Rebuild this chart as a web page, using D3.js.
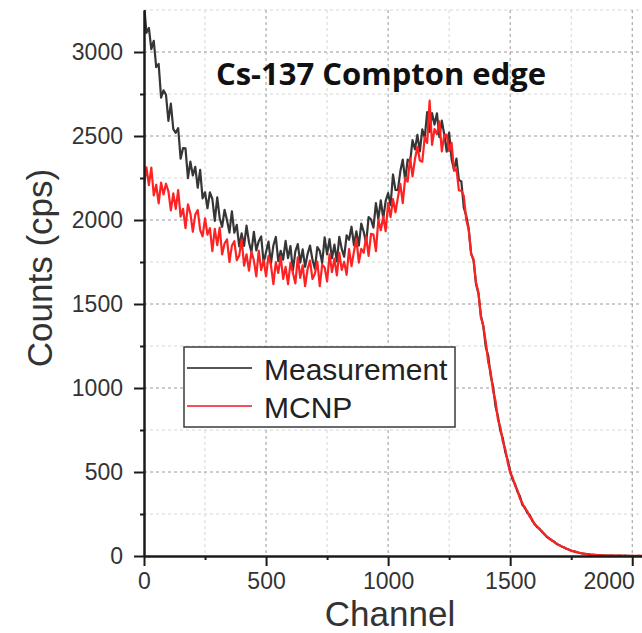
<!DOCTYPE html>
<html>
<head>
<meta charset="utf-8">
<script src="https://cdn.jsdelivr.net/npm/d3@7"></script>
<style>
  body { margin: 0; background: #fff; }
  svg { display: block; }
</style>
</head>
<body>
<svg id="chart" width="642" height="633"></svg>
<script>
// Spectrum sampled every 10 channels, starting at channel 0 (counts per second)
const channelStep = 10;

const measurement = [
  3290, 3114, 3143, 3017, 3066, 2910, 2929, 2728, 2772, 2746,
  2590, 2693, 2541, 2519, 2547, 2365, 2428, 2426, 2249, 2347,
  2265, 2316, 2192, 2298, 2129, 2165, 2070, 2165, 2125, 1995,
  2135, 2012, 1959, 2061, 1998, 1925, 2052, 1924, 1971, 1843,
  1920, 1846, 1967, 1868, 1809, 1930, 1819, 1873, 1902, 1746,
  1810, 1871, 1742, 1848, 1899, 1755, 1817, 1764, 1876, 1773,
  1845, 1699, 1813, 1857, 1746, 1825, 1721, 1797, 1848, 1764,
  1710, 1838, 1816, 1744, 1897, 1795, 1886, 1772, 1853, 1754,
  1900, 1828, 1781, 1909, 1882, 1960, 1851, 1932, 1848, 1979,
  1930, 1861, 2017, 2003, 1954, 2100, 2006, 2117, 2008, 2114,
  2160, 2088, 2271, 2179, 2177, 2290, 2360, 2235, 2360, 2345,
  2475, 2421, 2507, 2408, 2539, 2490, 2642, 2524, 2636, 2568,
  2635, 2493, 2591, 2509, 2407, 2520, 2362, 2299, 2366, 2238,
  2230, 2073, 2026, 1949, 1802, 1760, 1619, 1563, 1432, 1366,
  1245, 1192, 1074, 1008, 890, 830, 744, 700, 618, 570,
  506, 454, 429, 382, 355, 304, 290, 257, 244, 211,
  192, 172, 163, 144, 132, 113, 106, 92, 86, 72,
  66, 57, 52, 43, 39, 31, 29, 23, 21, 16,
  15, 11, 11, 7, 8, 5, 6, 3, 4, 2,
  3, 2, 3, 1, 2, 2, 1, 2, 1, 1,
  1, 0, 1, 1, 0
];

const mcnp = [
  2210, 2314, 2208, 2312, 2146, 2210, 2099, 2223, 2152, 2216,
  2170, 2057, 2159, 2066, 2178, 2020, 2066, 1952, 2093, 2039,
  1930, 2032, 2059, 1941, 1903, 2010, 1913, 1951, 1814, 1947,
  1850, 1955, 1795, 1860, 1885, 1750, 1847, 1874, 1761, 1788,
  1885, 1728, 1796, 1699, 1812, 1760, 1664, 1818, 1702, 1761,
  1665, 1786, 1732, 1618, 1749, 1685, 1782, 1649, 1721, 1618,
  1745, 1684, 1623, 1777, 1656, 1730, 1606, 1707, 1758, 1649,
  1680, 1753, 1606, 1734, 1717, 1635, 1795, 1690, 1770, 1670,
  1805, 1703, 1751, 1674, 1827, 1725, 1812, 1889, 1746, 1828,
  1805, 1901, 1787, 1918, 1914, 1815, 2002, 1939, 2021, 1933,
  2100, 2017, 2124, 2046, 2133, 2215, 2101, 2252, 2228, 2369,
  2260, 2363, 2436, 2354, 2347, 2495, 2459, 2710, 2447, 2541,
  2510, 2587, 2409, 2506, 2508, 2410, 2459, 2293, 2302, 2176,
  2175, 2143, 2001, 1944, 1797, 1765, 1629, 1568, 1422, 1371,
  1275, 1154, 1096, 982, 924, 810, 765, 680, 636, 557,
  495, 469, 418, 391, 341, 315, 282, 268, 233, 218,
  188, 177, 158, 148, 128, 117, 102, 96, 82, 76,
  64, 59, 50, 45, 37, 33, 27, 25, 19, 18,
  13, 13, 9, 9, 6, 7, 4, 5, 3, 3,
  2, 3, 2, 2, 1, 2, 1, 1, 1, 0,
  1, 1, 0, 1, 1
];

const seriesNames = ["Measurement", "MCNP"];
const xTicks = [0, 500, 1000, 1500, 2000];
const xMinorTicks = [250, 750, 1250, 1750];
const yTicks = [0, 500, 1000, 1500, 2000, 2500, 3000];
const yMinorTicks = [250, 750, 1250, 1750, 2250, 2750, 3250];
const titleText = "Cs-137 Compton edge";
const xTitle = "Channel";
const yTitle = "Counts (cps)";

const lineColors = ["#363636", "#ff2222"];
const legendColors = ["#555555", "#f05060"];

const svg = d3.select("#chart");
const plotLeft = 144, plotRight = 642, plotTop = 10, plotBottom = 556;

const x = d3.scaleLinear().domain([0, 2040]).range([plotLeft, plotRight]);
const y = d3.scaleLinear().domain([0, 3250]).range([plotBottom, plotTop]);

svg.append("rect").attr("width", 642).attr("height", 633).attr("fill", "#fff");

svg.append("defs").append("clipPath").attr("id", "plot-clip")
  .append("rect").attr("x", plotLeft).attr("y", plotTop)
  .attr("width", plotRight - plotLeft).attr("height", plotBottom - plotTop);

// grid: light dotted lines at minor ticks, darker dotted lines at major ticks
const grid = svg.append("g");
function hLines(values, color) {
  grid.append("g").selectAll("line").data(values).join("line")
    .attr("x1", plotLeft).attr("x2", plotRight)
    .attr("y1", d => y(d)).attr("y2", d => y(d))
    .attr("stroke", color).attr("stroke-width", 1).attr("stroke-dasharray", "3,3");
}
function vLines(values, color) {
  grid.append("g").selectAll("line").data(values).join("line")
    .attr("y1", plotTop).attr("y2", plotBottom)
    .attr("x1", d => x(d)).attr("x2", d => x(d))
    .attr("stroke", color).attr("stroke-width", 1).attr("stroke-dasharray", "3,3");
}
hLines(yMinorTicks, "#d6d6d6");
vLines(xMinorTicks, "#d6d6d6");
hLines(yTicks.filter(d => d > 0), "#9a9a9a");
vLines(xTicks.filter(d => d > 0), "#9a9a9a");

// spectra
const line = d3.line()
  .x((d, i) => x(i * channelStep))
  .y(d => y(d));

const plot = svg.append("g").attr("clip-path", "url(#plot-clip)");
[measurement, mcnp].forEach((series, k) => {
  plot.append("path")
    .datum(series)
    .attr("fill", "none")
    .attr("stroke", lineColors[k])
    .attr("stroke-width", 2.2)
    .attr("stroke-linejoin", "round")
    .attr("d", line);
});

// axes
const tickFont = "'Liberation Sans', Arial, sans-serif";

const yAxis = svg.append("g").attr("transform", `translate(${plotLeft},0)`)
  .call(d3.axisLeft(y).tickValues(yTicks).tickSize(10).tickSizeOuter(0).tickPadding(11)
    .tickFormat(d3.format("d")));
const yMinor = svg.append("g").attr("transform", `translate(${plotLeft},0)`)
  .call(d3.axisLeft(y).tickValues(yMinorTicks.filter(d => d < 3250)).tickSize(4).tickSizeOuter(0).tickFormat(""));

const xAxis = svg.append("g").attr("transform", `translate(0,${plotBottom})`)
  .call(d3.axisBottom(x).tickValues(xTicks).tickSize(10).tickSizeOuter(0).tickPadding(7)
    .tickFormat(d3.format("d")));
const xMinor = svg.append("g").attr("transform", `translate(0,${plotBottom})`)
  .call(d3.axisBottom(x).tickValues(xMinorTicks).tickSize(4).tickSizeOuter(0).tickFormat(""));

[yAxis, yMinor, xAxis, xMinor].forEach(g => {
  g.select(".domain").attr("stroke", "#1a1a1a").attr("stroke-width", 2);
  g.selectAll(".tick line").attr("stroke", "#1a1a1a").attr("stroke-width", 2);
  g.selectAll(".tick text")
    .attr("font-family", tickFont).attr("font-size", 23).attr("fill", "#333");
});
// last channel label sits flush against the right edge
xAxis.selectAll(".tick text").filter(d => d === 2000)
  .attr("text-anchor", "end").attr("x", 2);

// axis titles
svg.append("text")
  .attr("transform", `translate(52,${(plotTop + plotBottom) / 2 - 15}) rotate(-90)`)
  .attr("text-anchor", "middle")
  .attr("font-family", tickFont).attr("font-size", 35).attr("fill", "#333")
  .text(yTitle);
svg.append("text")
  .attr("x", 390).attr("y", 626)
  .attr("text-anchor", "middle")
  .attr("font-family", tickFont).attr("font-size", 35).attr("fill", "#333")
  .text(xTitle);

// chart title
svg.append("text")
  .attr("x", 381).attr("y", 85)
  .attr("text-anchor", "middle")
  .attr("font-family", "'Open Sans', 'Noto Sans CJK KR', sans-serif")
  .attr("font-weight", 700).attr("font-size", 31).attr("fill", "#111")
  .text(titleText);

// legend
const legend = svg.append("g");
legend.append("rect")
  .attr("x", 184).attr("y", 347).attr("width", 271).attr("height", 80)
  .attr("fill", "#fff").attr("stroke", "#3a3a3a").attr("stroke-width", 1.5);
seriesNames.forEach((name, k) => {
  const cy = 368 + k * 38;
  legend.append("line")
    .attr("x1", 187).attr("x2", 252).attr("y1", cy).attr("y2", cy)
    .attr("stroke", legendColors[k]).attr("stroke-width", 2);
  legend.append("text")
    .attr("x", 264).attr("y", cy + 12)
    .attr("font-family", tickFont).attr("font-size", 30).attr("fill", "#222")
    .text(name);
});
</script>
</body>
</html>
